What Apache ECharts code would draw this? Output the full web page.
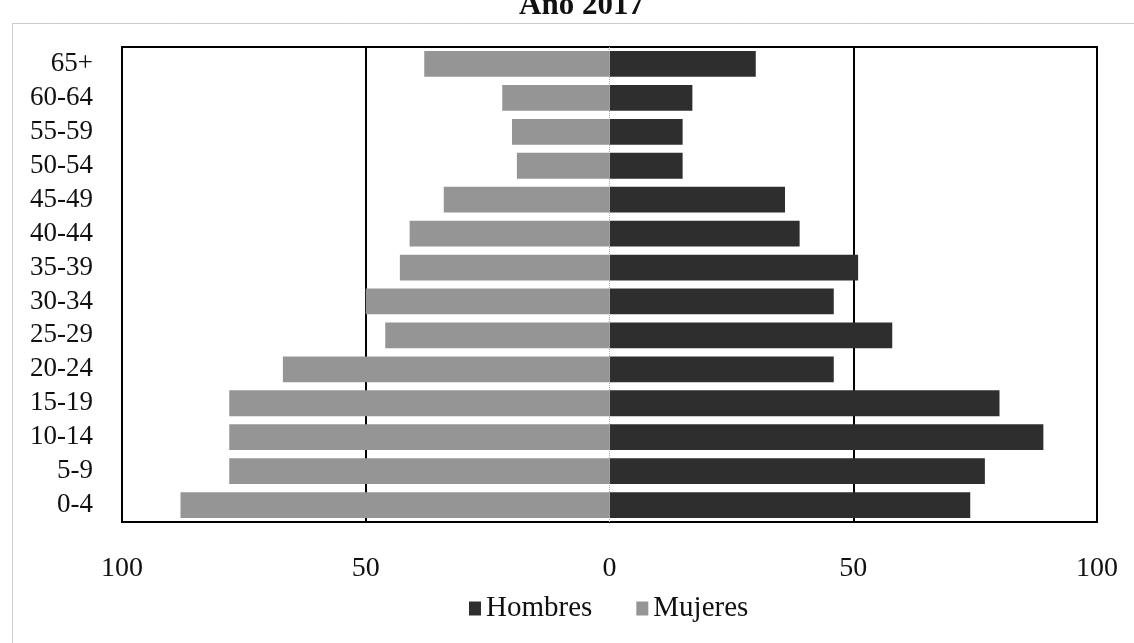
<!DOCTYPE html>
<html>
<head>
<meta charset="utf-8">
<script src="https://cdn.jsdelivr.net/npm/echarts@6/dist/echarts.min.js"></script>
<style>html,body{margin:0;padding:0;background:#fff}#c{width:1134px;height:643px}</style>
</head>
<body>
<div id="c"></div>
<script>
const categories = ['0-4','5-9','10-14','15-19','20-24','25-29','30-34','35-39','40-44','45-49','50-54','55-59','60-64','65+'];
const hombres = [74, 77, 89, 80, 46, 58, 46, 51, 39, 36, 15, 15, 17, 30];
const mujeres = [88, 78, 78, 78, 67, 46, 50, 43, 41, 34, 19, 20, 22, 38];
const xTicks = { min: -100, max: 100, interval: 50 };
const titleText = 'Año 2017';

const serif = '"Liberation Serif","Times New Roman",serif';
const chart = echarts.init(document.getElementById('c'), null, { renderer: 'canvas' });
chart.setOption({
  backgroundColor: '#fff',
  animation: false,
  title: {
    text: titleText, left: 514, top: -15,
    textStyle: { fontFamily: serif, fontSize: 31, fontWeight: 'bold', color: '#111' }
  },
  graphic: [{
    type: 'rect', left: 10, top: 21, silent: true,
    shape: { width: 1140, height: 700 },
    style: { fill: 'none', stroke: '#999', lineWidth: 1, lineDash: [1, 1] }
  }],
  legend: {
    data: ['Hombres', 'Mujeres'], bottom: 15, left: 464,
    itemWidth: 12, itemHeight: 14, itemGap: 44,
    icon: 'rect',
    textStyle: { fontFamily: serif, fontSize: 29, color: '#111' }
  },
  grid: {
    left: 122, right: 37, top: 47, bottom: 121,
    show: true, borderColor: '#000', borderWidth: 2, containLabel: false
  },
  xAxis: {
    type: 'value', min: xTicks.min, max: xTicks.max, interval: xTicks.interval,
    axisLine: { show: false }, axisTick: { show: false },
    axisLabel: {
      formatter: v => String(Math.abs(v)), margin: 33,
      fontFamily: serif, fontSize: 28, color: '#111'
    },
    splitLine: { show: true, lineStyle: { color: ['#000', '#000', 'rgba(0,0,0,0)', '#000', '#000'], width: 2 } }
  },
  yAxis: {
    type: 'category', data: categories,
    axisLine: { show: false }, axisTick: { show: false },
    axisLabel: { interval: 0, margin: 29, fontFamily: serif, fontSize: 27, color: '#111' }
  },
  series: [
    {
      name: 'Hombres', type: 'bar', stack: 't', data: hombres,
      barCategoryGap: '24%',
      itemStyle: { color: '#2e2e2e' }
    },
    {
      name: 'Mujeres', type: 'bar', stack: 't', data: mujeres.map(v => -v),
      barCategoryGap: '24%',
      itemStyle: { color: '#959595' },
      markLine: {
        silent: true, symbol: 'none', label: { show: false },
        lineStyle: { color: '#aaa', type: 'dotted', width: 1 },
        data: [{ xAxis: 0 }]
      }
    }
  ]
});
</script>
</body>
</html>
